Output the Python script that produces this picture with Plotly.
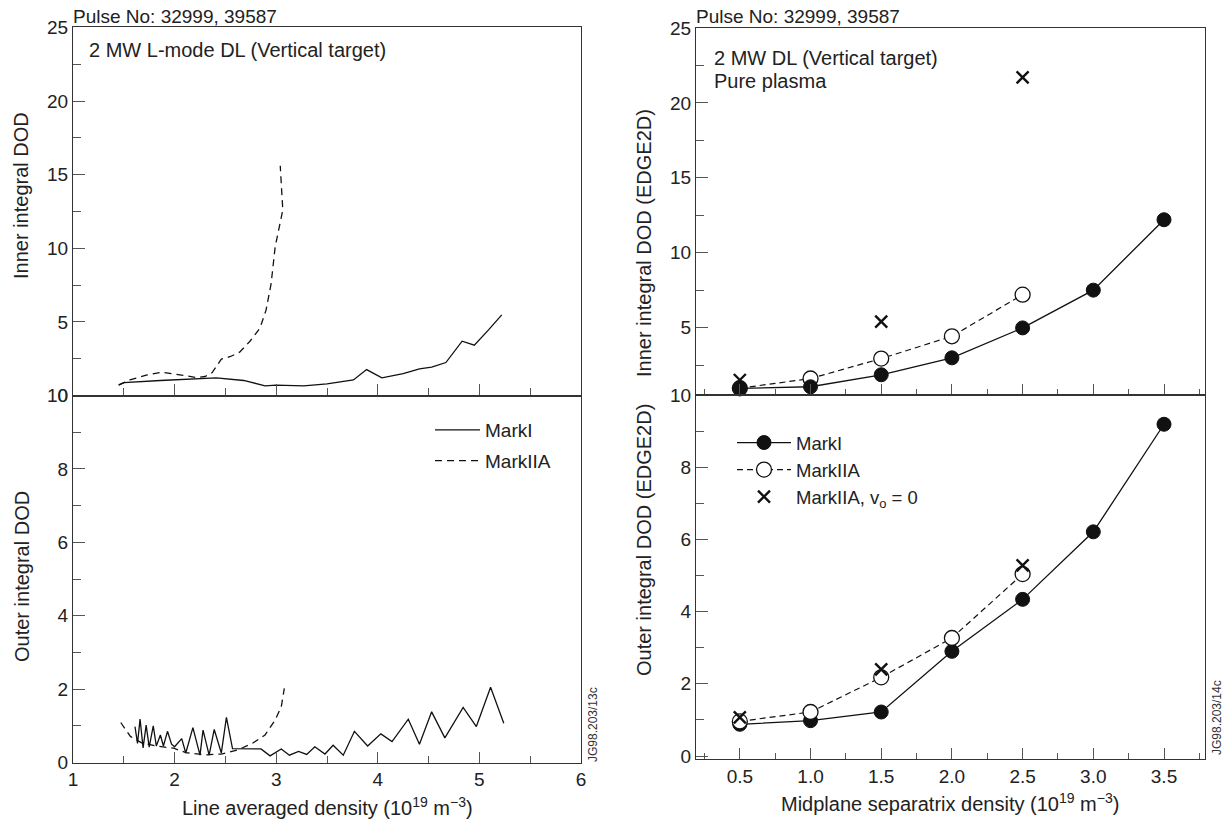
import plotly.graph_objects as go

# ---------------- data ----------------
# Left column: experiment, vs line averaged density
inner_mk1_x = [1.45, 1.5, 1.86, 2.19, 2.41, 2.68, 2.89, 3.0, 3.27, 3.5, 3.76, 3.89, 4.04, 4.25, 4.41, 4.53, 4.67, 4.83, 4.95, 5.09, 5.22]
inner_mk1_y = [0.72, 0.88, 1.02, 1.15, 1.2, 1.02, 0.66, 0.7, 0.66, 0.79, 1.06, 1.76, 1.2, 1.49, 1.81, 1.92, 2.24, 3.69, 3.42, 4.46, 5.48]
inner_mk2_x = [1.45, 1.56, 1.73, 1.87, 2.05, 2.22, 2.3, 2.37, 2.46, 2.55, 2.64, 2.74, 2.84, 2.9, 2.95, 2.99, 3.065, 3.04]
inner_mk2_y = [0.7, 1.06, 1.4, 1.58, 1.4, 1.22, 1.29, 1.56, 2.47, 2.65, 2.94, 3.67, 4.57, 5.8, 7.6, 10.1, 12.6, 15.6]

outer_mk1_x = [1.61, 1.635, 1.66, 1.69, 1.72, 1.75, 1.79, 1.82, 1.86, 1.89, 1.93, 1.97, 2.0, 2.07, 2.11, 2.18, 2.25, 2.28, 2.34, 2.39, 2.46, 2.51, 2.57, 2.85, 2.94, 3.05, 3.13, 3.22, 3.3, 3.38, 3.48, 3.56, 3.66, 3.77, 3.9, 4.03, 4.14, 4.3, 4.41, 4.53, 4.66, 4.84, 4.97, 5.11, 5.24]
outer_mk1_y = [0.98, 0.52, 1.18, 0.4, 1.02, 0.42, 1.0, 0.45, 0.75, 0.45, 0.85, 0.5, 0.43, 0.65, 0.26, 0.95, 0.2, 0.88, 0.2, 0.9, 0.26, 1.23, 0.38, 0.37, 0.18, 0.37, 0.2, 0.3, 0.22, 0.43, 0.23, 0.47, 0.2, 0.85, 0.45, 0.78, 0.57, 1.18, 0.5, 1.38, 0.67, 1.5, 0.98, 2.05, 1.07]
outer_mk2_x = [1.47, 1.565, 1.68, 1.84, 1.99, 2.11, 2.31, 2.46, 2.62, 2.77, 2.89, 2.99, 3.05, 3.08]
outer_mk2_y = [1.09, 0.71, 0.53, 0.44, 0.39, 0.27, 0.21, 0.23, 0.34, 0.53, 0.75, 1.16, 1.52, 2.02]

# Right column: EDGE2D, vs midplane separatrix density
sep_mk1 = [0.5, 1.0, 1.5, 2.0, 2.5, 3.0, 3.5]
sep_mk2 = [0.5, 1.0, 1.5, 2.0, 2.5]
sep_vo = [0.5, 1.5, 2.5]
edge_inner_mk1 = [0.94, 1.05, 1.85, 2.98, 4.98, 7.5, 12.2]
edge_inner_mk2 = [0.95, 1.6, 2.93, 4.42, 7.2]
edge_inner_vo = [1.5, 5.4, 21.7]
edge_outer_mk1 = [0.88, 0.98, 1.22, 2.9, 4.34, 6.21, 9.19]
edge_outer_mk2 = [0.96, 1.22, 2.18, 3.27, 5.04]
edge_outer_vo = [1.07, 2.4, 5.28]

# ---------------- helpers ----------------
OFF = 8  # page body margin
W, H = 1230 - OFF, 825 - OFF
FONT = "Liberation Sans, Arial, Helvetica, sans-serif"
INK = "#111111"


def fx(p):
    return (p - OFF) / W


def fy(p):
    return 1 - (p - OFF) / H


fig = go.Figure()

line_solid = dict(color=INK, width=1.3)
line_dash_l = dict(color=INK, width=1.3, dash="7px,5px")
line_dash_r = dict(color=INK, width=1.2, dash="6px,4px")

# left top
fig.add_trace(go.Scatter(x=inner_mk1_x, y=inner_mk1_y, mode="lines", line=line_solid,
                         xaxis="x", yaxis="y", showlegend=False))
fig.add_trace(go.Scatter(x=inner_mk2_x, y=inner_mk2_y, mode="lines", line=line_dash_l,
                         xaxis="x", yaxis="y", showlegend=False))
# left bottom
fig.add_trace(go.Scatter(x=outer_mk1_x, y=outer_mk1_y, mode="lines", line=line_solid,
                         xaxis="x2", yaxis="y2", name="MarkI", legend="legend", legendgroup="a"))
fig.add_trace(go.Scatter(x=outer_mk2_x, y=outer_mk2_y, mode="lines", line=line_dash_l,
                         xaxis="x2", yaxis="y2", name="MarkIIA", legend="legend", legendgroup="b"))

mk_fill = dict(symbol="circle", size=14, color=INK, line=dict(color=INK, width=1))
mk_open = dict(symbol="circle", size=15, color="white", line=dict(color=INK, width=1.3))
mk_x = dict(symbol="x-thin", size=12, line=dict(color=INK, width=2.4))

# right top
fig.add_trace(go.Scatter(x=sep_mk2, y=edge_inner_mk2, mode="lines+markers", line=line_dash_r,
                         marker=mk_open, xaxis="x3", yaxis="y3", showlegend=False, cliponaxis=False))
fig.add_trace(go.Scatter(x=sep_vo, y=edge_inner_vo, mode="markers", marker=mk_x,
                         xaxis="x3", yaxis="y3", showlegend=False, cliponaxis=False))
fig.add_trace(go.Scatter(x=sep_mk1, y=edge_inner_mk1, mode="lines+markers", line=line_solid,
                         marker=mk_fill, xaxis="x3", yaxis="y3", showlegend=False, cliponaxis=False))
# right bottom
fig.add_trace(go.Scatter(x=sep_mk1, y=edge_outer_mk1, mode="lines+markers", line=line_solid,
                         marker=mk_fill, xaxis="x4", yaxis="y4", name="MarkI", legend="legend2",
                         cliponaxis=False))
fig.add_trace(go.Scatter(x=sep_mk2, y=edge_outer_mk2, mode="lines+markers", line=line_dash_r,
                         marker=mk_open, xaxis="x4", yaxis="y4", name="MarkIIA", legend="legend2",
                         cliponaxis=False))
fig.add_trace(go.Scatter(x=sep_vo, y=edge_outer_vo, mode="markers", marker=mk_x,
                         xaxis="x4", yaxis="y4", name="MarkIIA, v<sub>o</sub> = 0", legend="legend2",
                         cliponaxis=False))

tickfont = dict(family=FONT, size=19, color="#222222")
axis_common = dict(showline=True, linecolor="#333333", linewidth=1, mirror=True,
                   showgrid=False, zeroline=False, ticks="inside", tickcolor="#555555",
                   tickwidth=1, tickfont=tickfont)

L0, L1 = fx(73), fx(581)
R0, R1 = fx(696), fx(1205)

fig.update_layout(
    width=W, height=H,
    margin=dict(l=0, r=0, t=0, b=0, autoexpand=False),
    paper_bgcolor="white", plot_bgcolor="white",
    font=dict(family=FONT, color="#222222"),
    xaxis=dict(axis_common, domain=[L0, L1], range=[1, 6], dtick=1, tick0=0, ticklen=12,
               showticklabels=False, anchor="y",
               minor=dict(dtick=0.5, tick0=0, ticks="inside", ticklen=8, tickcolor="#555555")),
    yaxis=dict(axis_common, domain=[fy(395.5), fy(27.4)], range=[0, 25], dtick=5, tick0=0,
               ticklen=12, anchor="x",
               minor=dict(dtick=2.5, tick0=0, ticks="inside", ticklen=8, tickcolor="#555555")),
    xaxis2=dict(axis_common, domain=[L0, L1], range=[1, 6], dtick=1, tick0=0, ticklen=11,
                anchor="y2",
                minor=dict(dtick=0.5, tick0=0, ticks="inside", ticklen=7, tickcolor="#555555")),
    yaxis2=dict(axis_common, domain=[fy(762.5), fy(395.5)], range=[0, 10], dtick=2, tick0=0,
                ticklen=12, anchor="x2",
                minor=dict(dtick=1, tick0=0, ticks="inside", ticklen=8, tickcolor="#555555")),
    xaxis3=dict(axis_common, domain=[R0, R1], range=[0.19, 3.79], dtick=0.5, tick0=0, ticklen=11,
                showticklabels=False, anchor="y3",
                minor=dict(dtick=0.25, tick0=0, ticks="inside", ticklen=6, tickcolor="#555555")),
    yaxis3=dict(axis_common, domain=[fy(395), fy(28)], range=[0.5, 25], dtick=5, tick0=0,
                ticklen=12, anchor="x3",
                minor=dict(dtick=2.5, tick0=0, ticks="inside", ticklen=8, tickcolor="#555555")),
    xaxis4=dict(axis_common, domain=[R0, R1], range=[0.19, 3.79], dtick=0.5, tick0=0, ticklen=11,
                tickformat=".1f", anchor="y4",
                minor=dict(dtick=0.25, tick0=0, ticks="inside", ticklen=6, tickcolor="#555555")),
    yaxis4=dict(axis_common, domain=[fy(759.3), fy(395)], range=[-0.09, 10], dtick=2, tick0=0,
                ticklen=12, anchor="x4",
                minor=dict(dtick=1, tick0=0, ticks="inside", ticklen=8, tickcolor="#555555")),
    legend=dict(x=fx(430), y=fy(411), xanchor="left", yanchor="top", bgcolor="rgba(0,0,0,0)",
                font=dict(family=FONT, size=19, color="#222222"), tracegroupgap=3,
                itemwidth=45),
    legend2=dict(x=fx(732), y=fy(424), xanchor="left", yanchor="top", bgcolor="rgba(0,0,0,0)",
                 font=dict(family=FONT, size=18.5, color="#222222"), itemwidth=54),
)

ann_font = dict(family=FONT, size=20, color="#222222")
annotations = [
    dict(text="Pulse No: 32999, 39587", x=fx(71), y=fy(16), xanchor="left", yanchor="middle",
         font=dict(family=FONT, size=19, color="#222222")),
    dict(text="Pulse No: 32999, 39587", x=fx(694), y=fy(16), xanchor="left", yanchor="middle",
         font=dict(family=FONT, size=19, color="#222222")),
    dict(text="2 MW L-mode DL (Vertical target)", x=fx(87), y=fy(50), xanchor="left", yanchor="middle"),
    dict(text="2 MW DL (Vertical target)", x=fx(712), y=fy(58), xanchor="left", yanchor="middle"),
    dict(text="Pure plasma", x=fx(712), y=fy(81), xanchor="left", yanchor="middle"),
    dict(text="Inner integral DOD", x=fx(21), y=fy(196), xanchor="center", yanchor="middle", textangle=-90),
    dict(text="Outer integral DOD", x=fx(22), y=fy(577), xanchor="center", yanchor="middle", textangle=-90),
    dict(text="Inner integral DOD (EDGE2D)", x=fx(644), y=fy(243), xanchor="center", yanchor="middle", textangle=-90),
    dict(text="Outer integral DOD (EDGE2D)", x=fx(644), y=fy(540), xanchor="center", yanchor="middle", textangle=-90),
    dict(text="Line averaged density (10<sup>19</sup> m<sup>\u22123</sup>)", x=fx(327), y=fy(806),
         xanchor="center", yanchor="middle"),
    dict(text="Midplane separatrix density (10<sup>19</sup> m<sup>\u22123</sup>)", x=fx(950), y=fy(802),
         xanchor="center", yanchor="middle"),
]
for a in annotations:
    a.setdefault("font", ann_font)
    fig.add_annotation(xref="paper", yref="paper", showarrow=False, **a)

small = dict(family=FONT, size=12, color="#333333")
fig.add_annotation(text="JG98.203/13c", xref="paper", yref="paper", x=fx(593), y=fy(725),
                   showarrow=False, textangle=-90, font=small, xanchor="center", yanchor="middle")
fig.add_annotation(text="JG98.203/14c", xref="paper", yref="paper", x=fx(1217), y=fy(718),
                   showarrow=False, textangle=-90, font=small, xanchor="center", yanchor="middle")

fig.write_html("out.html")
